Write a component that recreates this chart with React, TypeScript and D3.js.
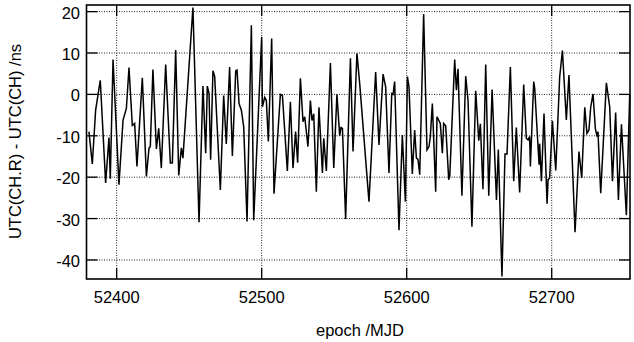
import React from "react";
import * as d3 from "d3";

// epoch (MJD) of each sample
const mjd = [
  52380.9, 52383.2, 52385.5, 52388.7, 52392.4, 52394.7, 52395.6, 52397.5, 52401.6, 52404.4,
  52406.7, 52408.5, 52410.8, 52412.4, 52414.0, 52417.7, 52420.5, 52422.3, 52423.2, 52425.0,
  52427.4, 52429.0, 52430.8, 52433.8, 52437.0, 52438.4, 52440.7, 52442.8, 52444.6, 52445.7,
  52452.6, 52456.8, 52459.5, 52461.4, 52462.5, 52463.7, 52464.8, 52466.4, 52467.6, 52471.5,
  52473.8, 52475.6, 52477.9, 52479.8, 52482.1, 52483.0, 52484.4, 52486.0, 52487.6, 52489.9,
  52492.9, 52494.5, 52500.0, 52500.5, 52502.1, 52503.2, 52504.6, 52506.9, 52508.5, 52512.9,
  52514.3, 52517.7, 52519.8, 52521.6, 52523.4, 52524.8, 52526.7, 52528.5, 52529.7, 52531.9,
  52533.6, 52534.7, 52535.9, 52537.7, 52539.5, 52541.9, 52542.8, 52544.6, 52547.4, 52549.7,
  52551.9, 52553.8, 52554.7, 52555.7, 52557.9, 52561.2, 52563.0, 52565.7, 52567.6, 52574.0,
  52578.6, 52580.9, 52583.7, 52585.5, 52587.8, 52589.7, 52590.6, 52591.7, 52594.7, 52597.0,
  52599.1, 52600.5, 52601.6, 52603.9, 52605.5, 52606.7, 52607.8, 52609.0, 52611.7, 52614.0,
  52615.4, 52616.3, 52617.7, 52620.0, 52620.9, 52623.2, 52624.6, 52625.5, 52626.9, 52629.0,
  52629.7, 52633.1, 52634.3, 52635.4, 52638.1, 52640.7, 52642.3, 52645.0, 52647.6, 52649.7,
  52650.8, 52652.6, 52654.5, 52656.6, 52658.9, 52661.9, 52663.2, 52665.7, 52667.8, 52669.2,
  52671.5, 52673.8, 52675.6, 52677.9, 52680.7, 52682.5, 52683.7, 52684.8, 52685.3, 52687.6,
  52688.3, 52691.3, 52691.7, 52692.9, 52694.7, 52696.8, 52697.5, 52698.6, 52700.5, 52702.8,
  52705.5, 52707.4, 52710.1, 52711.9, 52716.1, 52718.8, 52720.7, 52722.8, 52724.3, 52725.7,
  52726.9, 52728.5, 52730.1, 52731.3, 52731.9, 52733.8, 52737.7, 52740.0, 52741.9, 52744.1,
  52746.0, 52748.1, 52751.5, 52753.8,
];

// UTC(CH.R) - UTC(CH) in ns
const offset = [
  -9.0, -16.8, -3.8, 3.4, -21.4, -10.4, -20.4, 8.4, -21.8, -6.2,
  -3.4, 6.5, -7.5, -7.0, -17.4, 4.0, -19.8, -13.0, -12.6, 6.0,
  -13.2, -8.2, -17.8, 7.2, -16.6, -16.6, 10.7, -19.6, -12.9, -15.4,
  21.0, -30.9, 2.0, -14.2, 2.0, 0.2, -15.8, 5.7, 4.3, -23.1,
  -0.3, -12.0, 6.6, -14.9, 5.7, 5.9, -2.2, -3.8, -7.8, -30.7,
  16.7, -30.4, 13.9, -3.0, -0.7, -1.4, -11.4, 13.5, -24.0, 0.0,
  -0.2, -18.5, -1.8, -17.8, -9.0, -16.5, 3.9, -6.6, -5.4, -12.6,
  -1.5, -6.3, -4.7, -23.5, -3.1, -19.0, -10.6, -18.5, 7.6, -17.8,
  0.0, -10.0, -8.0, -8.2, -30.1, 8.7, -13.8, 9.9, 2.6, -25.9,
  5.4, -12.2, 4.9, 1.8, -19.0, 0.2, 0.0, 3.1, -32.8, -9.8,
  -25.9, 4.3, 1.8, -19.2, -8.6, -15.4, -15.7, -19.4, 19.4, -13.4,
  -12.6, -10.2, -2.2, -23.5, -5.4, -7.0, -14.2, -7.0, -7.6, -20.6,
  -19.8, 8.4, 1.0, 6.2, -24.5, 4.4, -1.4, -32.0, 0.9, -11.2,
  -7.1, -22.9, 7.2, -24.5, 1.2, -25.5, -13.3, -44.0, -14.4, -14.4,
  6.6, -21.0, -8.0, -23.7, 2.4, -10.6, -11.0, -10.2, -17.4, 3.1,
  1.4, -17.0, -11.9, -21.0, -4.6, -26.4, -20.6, -20.2, -6.4, -18.4,
  4.2, 10.6, -6.2, 4.7, -33.3, -13.8, -20.2, -3.1, -9.4, -8.6,
  -3.1, 0.1, -8.2, -10.2, -9.0, -23.9, 2.8, -3.0, -21.0, -4.4,
  -25.5, -7.2, -29.2, 0.0,
];

const xTicks = [52400, 52500, 52600, 52700];
const yTicks = [-40, -30, -20, -10, 0, 10, 20];

const W = 634;
const H = 342;
const left = 86.5, right = 630, top = 5, bottom = 279;
const font = "'Liberation Sans', Arial, sans-serif";

export default function App() {
  const x = d3.scaleLinear().domain([52379.2, 52754]).range([left, right]);
  const y = d3.scaleLinear().domain([-44.6, 21.6]).range([bottom, top]);

  const pts = mjd.map((m, i) => [m, offset[i]] as [number, number]);
  const line = d3.line<[number, number]>()
    .x(d => x(d[0]))
    .y(d => y(d[1]));

  const tickLen = 11;

  return (
    <svg width={W} height={H} style={{ position: "absolute", left: 0, top: 0, background: "#fff" }}>
      {/* grid */}
      {xTicks.map(t => (
        <line key={"gx" + t} x1={x(t)} x2={x(t)} y1={top} y2={bottom}
          stroke="#222" strokeWidth={1} strokeDasharray="1,1.5" />
      ))}
      {yTicks.map(t => (
        <line key={"gy" + t} x1={left} x2={right} y1={y(t)} y2={y(t)}
          stroke="#222" strokeWidth={1} strokeDasharray="1,1.5" />
      ))}

      {/* ticks, inward on all four sides */}
      {xTicks.map(t => (
        <g key={"tx" + t} stroke="#000" strokeWidth={1.3}>
          <line x1={x(t)} x2={x(t)} y1={bottom} y2={bottom - tickLen} />
          <line x1={x(t)} x2={x(t)} y1={top} y2={top + tickLen} />
        </g>
      ))}
      {yTicks.map(t => (
        <g key={"ty" + t} stroke="#000" strokeWidth={1.3}>
          <line x1={left} x2={left + tickLen} y1={y(t)} y2={y(t)} />
          <line x1={right} x2={right - tickLen} y1={y(t)} y2={y(t)} />
        </g>
      ))}

      {/* data */}
      <path d={line(pts) || ""} fill="none" stroke="#000" strokeWidth={1.5} strokeLinejoin="miter" />

      {/* frame */}
      <rect x={left} y={top} width={right - left} height={bottom - top}
        fill="none" stroke="#000" strokeWidth={1.6} />

      {/* tick labels */}
      {xTicks.map(t => (
        <text key={"lx" + t} x={x(t)} y={302.5} textAnchor="middle"
          fontFamily={font} fontSize={16.5} fill="#000">{t}</text>
      ))}
      {yTicks.map(t => (
        <text key={"ly" + t} x={80} y={y(t)} dy="0.42em" textAnchor="end"
          fontFamily={font} fontSize={16.5} fill="#000">{t}</text>
      ))}

      {/* axis titles */}
      <text x={360} y={336} textAnchor="middle" fontFamily={font} fontSize={16.5} fill="#000">
        epoch /MJD
      </text>
      <text transform={`translate(20.7,141.5) rotate(-90)`} textAnchor="middle"
        fontFamily={font} fontSize={16.5} fill="#000">
        UTC(CH.R) - UTC(CH) /ns
      </text>
    </svg>
  );
}
